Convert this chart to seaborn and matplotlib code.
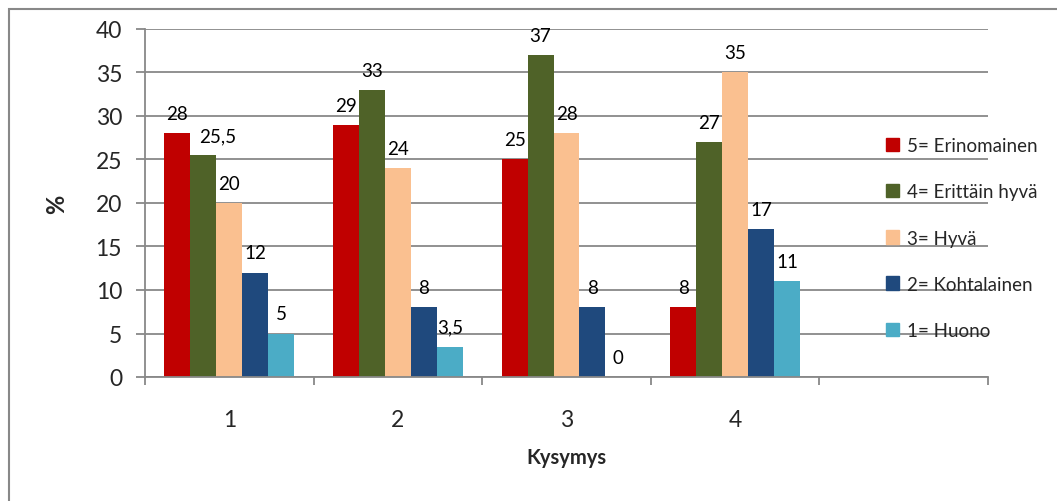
import matplotlib
matplotlib.use("Agg")
import matplotlib.pyplot as plt
from matplotlib.patches import Rectangle
import pandas as pd
import seaborn as sns

# Data
questions = ["1", "2", "3", "4"]
series_names = ["5= Erinomainen", "4= Erittäin hyvä", "3= Hyvä",
                "2= Kohtalainen", "1= Huono"]
erinomainen = [28, 29, 25, 8]
erittain_hyva = [25.5, 33, 37, 27]
hyva = [20, 24, 28, 35]
kohtalainen = [12, 8, 8, 17]
huono = [5, 3.5, 0, 11]
yticks = [0, 5, 10, 15, 20, 25, 30, 35, 40]

colors = ["#C00000", "#4F6228", "#FAC090", "#1F497D", "#4BACC6"]
grid_color = "#888888"

series_values = [erinomainen, erittain_hyva, hyva, kohtalainen, huono]
rows = []
for name, vals in zip(series_names, series_values):
    for q, v in zip(questions, vals):
        rows.append({"Kysymys": q, "Sarja": name, "Arvo": v})
df = pd.DataFrame(rows)

sns.set_theme(style="white")
plt.rcParams["font.family"] = ["Lato", "DejaVu Sans"]

fig = plt.figure(figsize=(10.57, 5.02), dpi=100)
ax = fig.add_axes([145 / 1057, 1 - 378 / 502, (988 - 145) / 1057, (378 - 30) / 502])

sns.barplot(data=df, x="Kysymys", y="Arvo", hue="Sarja", order=questions,
            hue_order=series_names, palette=colors, width=0.77,
            saturation=1, edgecolor="none", ax=ax)

# Data labels with decimal comma
all_labels = []
for container, vals in zip(ax.containers, series_values):
    labels = [f"{v:g}".replace(".", ",") for v in vals]
    all_labels.append(ax.bar_label(container, labels=labels, padding=8,
                                   fontsize=13.5, color="black"))
# the "25,5" label sits a little to the right, as in the original
all_labels[1][0].xyann = (10, 8)

ax.set_xlim(-0.5, 4.5)
ax.set_ylim(0, 40)
ax.set_yticks(yticks)
ax.yaxis.grid(True, color=grid_color, linewidth=1.3)
ax.set_axisbelow(True)

ax.set_xticks(range(len(questions)))
ax.set_xticklabels(questions)
ax.set_xticks([i - 0.5 for i in range(6)], minor=True)
ax.tick_params(axis="x", which="major", length=0, pad=23, labelsize=16.5)
ax.tick_params(axis="x", which="minor", length=6, width=1.3,
               color=grid_color, direction="out", bottom=True)
ax.tick_params(axis="y", length=6.5, width=1.3, color=grid_color,
               direction="out", left=True, pad=10, labelsize=16.5)

for side in ["top", "right"]:
    ax.spines[side].set_visible(False)
for side in ["left", "bottom"]:
    ax.spines[side].set_color(grid_color)
    ax.spines[side].set_linewidth(1.3)

ax.set_xlabel("Kysymys", fontsize=14.5, fontweight="bold", labelpad=12)
ax.set_ylabel("%", fontsize=17, fontweight="bold", labelpad=20)

leg = ax.get_legend()
leg.remove()
handles = [Rectangle((0, 0), 1, 1, color=c) for c in colors]
fig.legend(handles, series_names, loc="center left",
           bbox_to_anchor=(886 / 1057, 1 - 239 / 502), frameon=False,
           fontsize=13.5, handlelength=0.7, handleheight=0.7,
           handletextpad=0.4, labelspacing=1.55, borderpad=0,
           borderaxespad=0)

# Outer chart border (only left and top visible in the crop)
fig.add_artist(Rectangle((9 / 1057, -0.1), 1.2, 1.1 - 10 / 502,
                         transform=fig.transFigure, fill=False,
                         edgecolor=grid_color, linewidth=1.5))

fig.savefig("out.png", dpi=100)
